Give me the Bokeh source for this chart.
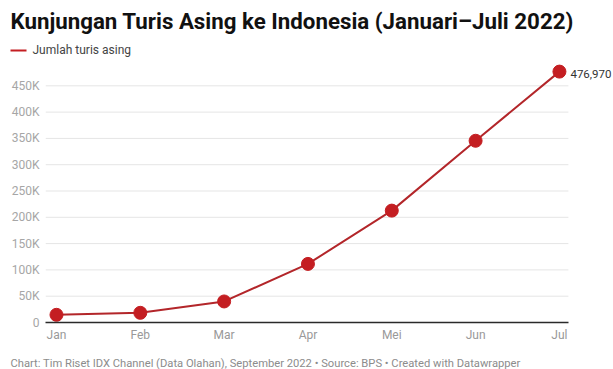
from bokeh.plotting import figure
from bokeh.layouts import column
from bokeh.models import ColumnDataSource, FixedTicker, Label, BoxAnnotation, Range1d
from bokeh.embed import file_html
from bokeh.resources import INLINE

months = ["Jan", "Feb", "Mar", "Apr", "Mei", "Jun", "Jul"]
tourists = [14600, 18400, 40000, 111400, 212700, 345500, 476970]
y_tick_values = [0, 50000, 100000, 150000, 200000, 250000, 300000, 350000, 400000, 450000]
y_tick_labels = ["0", "50K", "100K", "150K", "200K", "250K", "300K", "350K", "400K", "450K"]
last_label = "476,970"

title_text = "Kunjungan Turis Asing ke Indonesia (Januari\u2013Juli 2022)"
legend_text = "Jumlah turis asing"
footer_text = ("Chart: Tim Riset IDX Channel (Data Olahan), September 2022 \u2022 "
               "Source: BPS \u2022 Created with Datawrapper")

FONT = "Roboto"
RED = "#c41e22"
LINE_RED = "#b3262a"
W = 613


def blank(height):
    f = figure(width=W, height=height, output_backend="svg", toolbar_location=None,
               x_range=Range1d(0, 1), y_range=Range1d(0, 1),
               x_axis_location=None, y_axis_location=None, frame_align=False,
               min_border_left=0, min_border_right=0, min_border_top=0, min_border_bottom=0)
    f.grid.visible = False
    f.outline_line_color = None
    return f


# ---------- header (title + legend) ----------
HEAD_H = 59
head = blank(HEAD_H)
head.add_layout(Label(x=10, y=HEAD_H - 20, x_units="screen", y_units="screen", text=title_text,
                      text_font=FONT, text_font_style="bold", text_font_size="22.3px",
                      text_color="#111111", text_baseline="middle"))
head.add_layout(BoxAnnotation(left=10, right=26, bottom=HEAD_H - 51, top=HEAD_H - 49,
                              left_units="screen", right_units="screen",
                              top_units="screen", bottom_units="screen",
                              fill_color=RED, fill_alpha=1, line_color=None))
head.add_layout(Label(x=32, y=HEAD_H - 49, x_units="screen", y_units="screen", text=legend_text,
                      text_font=FONT, text_font_size="12px", text_color="#444444",
                      text_baseline="middle"))

# ---------- main chart ----------
xs = list(range(len(months)))
src = ColumnDataSource(dict(x=xs, y=tourists))
x_start, grid_end = -0.131, 6.107

p = figure(width=W, height=291, output_backend="svg", toolbar_location=None,
           x_range=Range1d(x_start, 6.645), y_range=Range1d(0, 500000), frame_align=False,
           min_border_left=45, min_border_right=0, min_border_top=0, min_border_bottom=28)
p.outline_line_color = None
p.grid.visible = False

# horizontal gridlines ending just past the last month
grid_vals = y_tick_values[1:]
p.segment(x0=[x_start] * len(grid_vals), x1=[grid_end] * len(grid_vals),
          y0=grid_vals, y1=grid_vals, line_color="#e5e5e5", line_width=1)

p.line("x", "y", source=src, line_color=LINE_RED, line_width=2)
p.scatter("x", "y", source=src, size=13, fill_color=RED, line_color=RED)

p.xaxis.ticker = FixedTicker(ticks=xs)
p.xaxis.major_label_overrides = {i: m for i, m in enumerate(months)}
p.xaxis.bounds = (x_start, grid_end)
p.xaxis.axis_line_color = "#2a2a2a"
p.xaxis.axis_line_width = 1.5
p.xaxis.major_tick_line_color = None
p.xaxis.minor_tick_line_color = None
p.xaxis.major_tick_out = 0
p.xaxis.major_label_standoff = 5
p.xaxis.major_label_text_font = FONT
p.xaxis.major_label_text_font_size = "12px"
p.xaxis.major_label_text_color = "#999999"

p.yaxis.ticker = FixedTicker(ticks=y_tick_values)
p.yaxis.major_label_overrides = {v: l for v, l in zip(y_tick_values, y_tick_labels)}
p.yaxis.axis_line_color = None
p.yaxis.major_tick_line_color = None
p.yaxis.minor_tick_line_color = None
p.yaxis.major_tick_out = 0
p.yaxis.major_label_standoff = 6
p.yaxis.major_label_text_font = FONT
p.yaxis.major_label_text_font_size = "12px"
p.yaxis.major_label_text_color = "#a6a6a6"

p.add_layout(Label(x=xs[-1], y=tourists[-1], text=last_label, x_offset=11, y_offset=-2,
                   text_font=FONT, text_font_size="11.5px", text_color="#333333",
                   text_baseline="middle", text_align="left"))

# ---------- footer ----------
FOOT_H = 19
foot = blank(FOOT_H)
foot.add_layout(Label(x=10, y=6, x_units="screen", y_units="screen", text=footer_text,
                      text_font=FONT, text_font_size="11.2px", text_color="#8c8c8c",
                      text_baseline="middle"))

layout = column(head, p, foot, spacing=0)
open("out.html", "w").write(file_html(layout, INLINE))
